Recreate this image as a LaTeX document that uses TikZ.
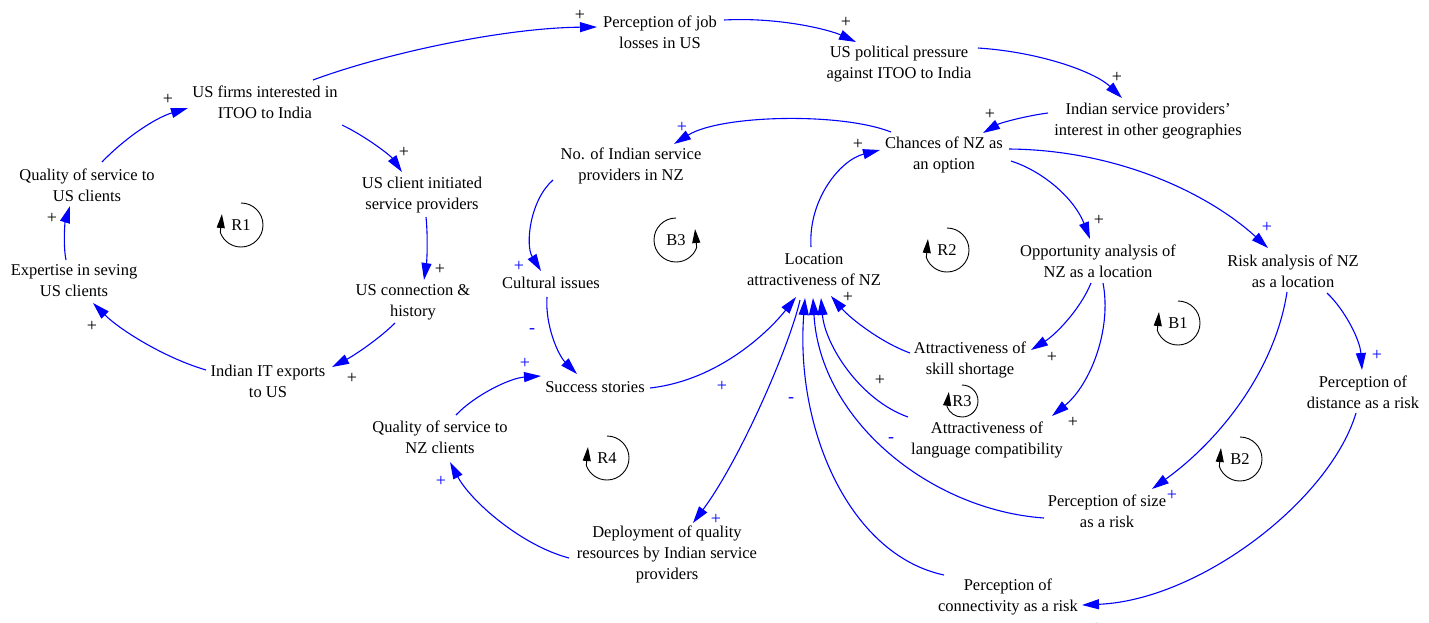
\documentclass[tikz,border=0pt]{standalone}
\usepackage{fontspec}
\setmainfont{Liberation Serif}
\usetikzlibrary{arrows.meta}
\begin{document}
\begin{tikzpicture}[x=1pt,y=-1pt,
  var/.style={align=center, inner sep=0pt, font=\fontsize{16.5}{21}\selectfont},
  link/.style={draw=blue, line width=1.1pt, -{Triangle[length=17pt,width=10pt]}},
  pk/.style={inner sep=0pt, font=\fontsize{18}{18}\selectfont, text=black},
  pb/.style={inner sep=0pt, font=\fontsize{18}{18}\selectfont, text=blue},
  loopc/.style={draw=black, line width=0.9pt, -{Triangle[length=14pt,width=8pt]}},
  lbl/.style={inner sep=0pt, font=\fontsize{16.5}{20}\selectfont}
]
\useasboundingbox (0,0) rectangle (1429,622);
\fill[white] (0,0) rectangle (1429,622);

% variables
\node[var] (usf) at (265,102) {US firms interested in\\ITOO to India};
\node[var] (pjl) at (660,32) {Perception of job\\losses in US};
\node[var] (uspp) at (899,64) {US political pressure\\against ITOO to India};
\node[var] (isp) at (1148,121) {Indian service providers’\\interest in other geographies};
\node[var] (chn) at (944,155) {Chances of NZ as\\an option};
\node[var] (noi) at (631,166) {No. of Indian service\\providers in NZ};
\node[var] (qus) at (87,185) {Quality of service to\\US clients};
\node[var] (usc) at (422,195) {US client initiated\\service providers};
\node[var] (exp) at (74,281) {Expertise in seving\\US clients};
\node[var] (ucn) at (413,302) {US connection \&\\history};
\node[var] (iit) at (268,381) {Indian IT exports\\to US};
\node[var] (cul) at (551,283) {Cultural issues};
\node[var] (loc) at (814,270) {Location\\attractiveness of NZ};
\node[var] (opp) at (1098,261) {Opportunity analysis of\\NZ as a location};
\node[var] (risk) at (1293,271) {Risk analysis of NZ\\as a location};
\node[var] (ski) at (970,360) {Attractiveness of\\skill shortage};
\node[var] (lan) at (987,440) {Attractiveness of\\language compatibility};
\node[var] (suc) at (595,387) {Success stories};
\node[var] (qnz) at (440,437) {Quality of service to\\NZ clients};
\node[var] (dist) at (1363,392) {Perception of\\distance as a risk};
\node[var] (psize) at (1107,511) {Perception of size\\as a risk};
\node[var] (conn) at (1008,597) {Perception of\\connectivity as a risk};
\node[var] (dep) at (667,554) {Deployment of quality\\resources by Indian service\\providers};

% R1 loop
\draw[link] ([shift={(77,23)}]usf.center) .. controls (365,136) and (390,155) .. ([shift={(-20,-23)}]usc.center);
\draw[link] ([shift={(4,22)}]usc.center) .. controls (428,237) and (427,260) .. ([shift={(11,-22)}]ucn.center);
\draw[link] ([shift={(-18,21)}]ucn.center) .. controls (380,338) and (355,355) .. ([shift={(64,-14)}]iit.center);
\draw[link] ([shift={(-62,-11)}]iit.center) .. controls (165,358) and (120,330) .. ([shift={(19,22)}]exp.center);
\draw[link] ([shift={(-8,-21)}]exp.center) .. controls (63,245) and (65,222) .. ([shift={(-17,21)}]qus.center);
\draw[link] ([shift={(15,-23)}]qus.center) .. controls (125,138) and (155,118) .. ([shift={(-77,6)}]usf.center);

% top chain
\draw[link] ([shift={(48,-22)}]usf.center) .. controls (380,55) and (500,28) .. ([shift={(-63,-5)}]pjl.center);
\draw[link] ([shift={(64,-12)}]pjl.center) .. controls (780,17) and (830,30) .. ([shift={(-43,-22)}]uspp.center);
\draw[link] ([shift={(79,-16)}]uspp.center) .. controls (1040,52) and (1095,72) .. ([shift={(-26,-23)}]isp.center);
\draw[link] ([shift={(-100,-8)}]isp.center) .. controls (1025,116) and (1000,123) .. ([shift={(39,-22)}]chn.center);
\draw[link] ([shift={(-53,-23)}]chn.center) .. controls (840,112) and (720,115) .. ([shift={(43,-22)}]noi.center);
\draw[link] ([shift={(-3,-23)}]loc.center) .. controls (808,200) and (840,160) .. ([shift={(-64,-5)}]chn.center);

% B3 / R4
\draw[link] ([shift={(-78,14)}]noi.center) .. controls (530,200) and (525,245) .. ([shift={(-10,-12)}]cul.center);
\draw[link] ([shift={(-4,14)}]cul.center) .. controls (545,325) and (558,355) .. ([shift={(-18,-13)}]suc.center);
\draw[link] ([shift={(55,1)}]suc.center) .. controls (720,380) and (770,330) .. ([shift={(-18,27)}]loc.center);
\draw[link] ([shift={(16,-22)}]qnz.center) .. controls (475,395) and (510,378) .. ([shift={(-54,-11)}]suc.center);
\draw[link] ([shift={(-98,4)}]dep.center) .. controls (520,545) and (470,500) .. ([shift={(10,25)}]qnz.center);
\draw[link] ([shift={(-14,30)}]loc.center) .. controls (790,345) and (740,460) .. ([shift={(26,-31)}]dep.center);

% right part
\draw[link] ([shift={(67,6)}]chn.center) .. controls (1045,172) and (1075,200) .. ([shift={(-8,-22)}]opp.center);
\draw[link] ([shift={(65,-6)}]chn.center) .. controls (1120,150) and (1210,195) .. ([shift={(-25,-23)}]risk.center);
\draw[link] ([shift={(-7,22)}]opp.center) .. controls (1080,310) and (1055,335) .. ([shift={(61,-10)}]ski.center);
\draw[link] ([shift={(5,22)}]opp.center) .. controls (1112,330) and (1090,385) .. ([shift={(65,-24)}]lan.center);
\draw[link] ([shift={(-6,21)}]risk.center) .. controls (1275,370) and (1220,440) .. ([shift={(45,-22)}]psize.center);
\draw[link] ([shift={(34,22)}]risk.center) .. controls (1345,310) and (1360,340) .. ([shift={(-1,-22)}]dist.center);
\draw[link] ([shift={(-7,21)}]dist.center) .. controls (1330,500) and (1200,600) .. ([shift={(74,8)}]conn.center);

% into location attractiveness
\draw[link] ([shift={(-64,-22)}]conn.center) .. controls (850,555) and (795,430) .. ([shift={(-9,28)}]loc.center);
\draw[link] ([shift={(-63,7)}]psize.center) .. controls (930,510) and (820,420) .. ([shift={(-1,28)}]loc.center);
\draw[link] ([shift={(-79,-23)}]lan.center) .. controls (860,400) and (825,345) .. ([shift={(7,28)}]loc.center);
\draw[link] ([shift={(-60,-7)}]ski.center) .. controls (880,342) and (850,318) .. ([shift={(17,26)}]loc.center);

% polarity labels
\node[pk] (p1) at (404,152) {+};
\node[pk] (p2) at (440,269) {+};
\node[pk] (p3) at (352,378) {+};
\node[pk] (p4) at (92,326) {+};
\node[pk] (p5) at (52,218) {+};
\node[pk] (p6) at (168,99) {+};
\node[pk] (p7) at (580,15) {+};
\node[pk] (p8) at (846,22) {+};
\node[pk] (p9) at (1117,77) {+};
\node[pk] (p10) at (990,114) {+};
\node[pb] (p11) at (682,127) {+};
\node[pk] (p12) at (858,144) {+};
\node[pb] (p13) at (519,266) {+};
\node[pb] (p14) at (532,331) {-};
\node[pb] (p15) at (722,386) {+};
\node[pb] (p16) at (525,363) {+};
\node[pb] (p17) at (441,481) {+};
\node[pb] (p18) at (716,519) {+};
\node[pk] (p19) at (1099,220) {+};
\node[pb] (p20) at (1267,227) {+};
\node[pk] (p21) at (1052,357) {+};
\node[pk] (p22) at (1073,422) {+};
\node[pb] (p23) at (1172,495) {+};
\node[pb] (p24) at (1377,355) {+};
\node[pb] (p25) at (1097,628) {+};
\node[pb] (p26) at (791,400) {-};
\node[pb] (p27) at (891,440) {-};
\node[pk] (p28) at (880,380) {+};
\node[pk] (p29) at (848,297) {+};

% loop markers
\begin{scope}[shift={(241,225)},y=1pt]
\draw[loopc] (90:22) arc[start angle=90,end angle=-160,radius=22] -- (150:22);
\node[lbl] (r1) at (0,0) {R1};
\end{scope}
\begin{scope}[shift={(676,240)},y=1pt]
\draw[loopc] (90:22) arc[start angle=90,end angle=340,radius=22] -- (30:22);
\node[lbl] (b3) at (0,0) {B3};
\end{scope}
\begin{scope}[shift={(947,250)},y=1pt]
\draw[loopc] (90:22) arc[start angle=90,end angle=-160,radius=22] -- (150:22);
\node[lbl] (r2) at (0,0) {R2};
\end{scope}
\begin{scope}[shift={(1178,323)},y=1pt]
\draw[loopc] (90:22) arc[start angle=90,end angle=-160,radius=22] -- (150:22);
\node[lbl] (b1) at (0,0) {B1};
\end{scope}
\begin{scope}[shift={(962,401)},y=1pt]
\draw[loopc] (90:16) arc[start angle=90,end angle=-160,radius=16] -- (145:16);
\node[lbl] (r3) at (0,0) {R3};
\end{scope}
\begin{scope}[shift={(1240,459)},y=1pt]
\draw[loopc] (90:22) arc[start angle=90,end angle=-160,radius=22] -- (150:22);
\node[lbl] (b2) at (0,0) {B2};
\end{scope}
\begin{scope}[shift={(607,458)},y=1pt]
\draw[loopc] (90:22) arc[start angle=90,end angle=-160,radius=22] -- (150:22);
\node[lbl] (r4) at (0,0) {R4};
\end{scope}
\end{tikzpicture}
\end{document}
